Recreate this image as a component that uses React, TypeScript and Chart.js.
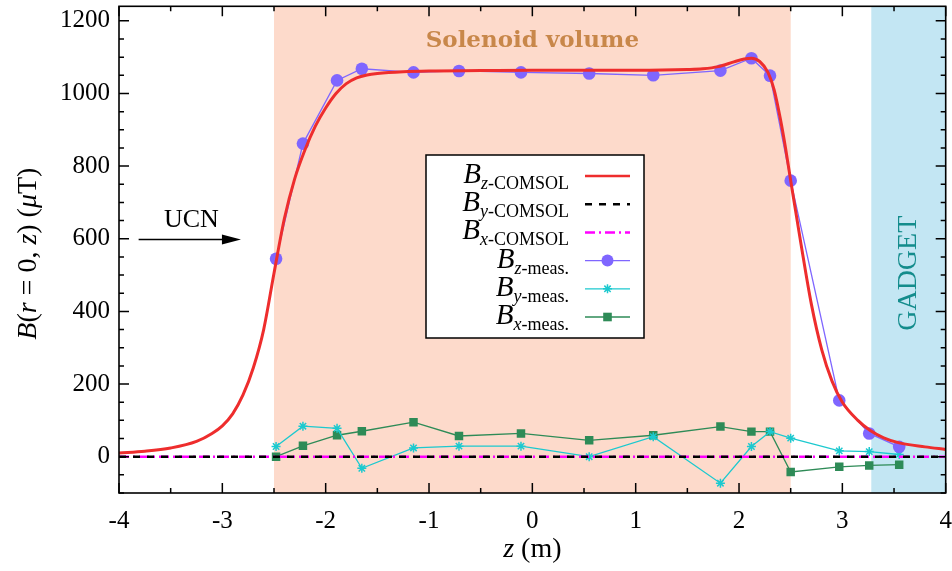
import React, { useEffect, useRef } from 'react';
import { Chart, registerables } from 'chart.js';

Chart.register(...registerables);

// ---- data ----
const zComsol = [-4.0, -3.75, -3.5, -3.25, -3.1, -3.0, -2.9, -2.8, -2.7, -2.6, -2.5, -2.4, -2.3, -2.2, -2.1, -2.0, -1.9, -1.8, -1.7, -1.6, -1.5, -1.25, -1.0, -0.5, 0, 0.5, 1.0, 1.5, 1.65, 1.8, 1.95, 2.05, 2.12, 2.2, 2.28, 2.34, 2.4, 2.45, 2.5, 2.6, 2.7, 2.8, 2.9, 3.0, 3.15, 3.27, 3.4, 3.55, 3.8, 4.0];
const bzComsol = [10, 15, 24, 42, 64, 85, 118, 170, 245, 350, 505, 655, 765, 845, 910, 960, 1000, 1027, 1043, 1051, 1055, 1060, 1062, 1063, 1064, 1064, 1064, 1066, 1068, 1074, 1087, 1095, 1097, 1088, 1058, 1010, 930, 850, 760, 585, 420, 295, 208, 150, 100, 72, 52, 38, 27, 20];
const zComsolFlat = [-4, 4];
const byComsol = [0, 0];
const bxComsol = [0, 0];

const zMeas = [-2.48, -2.22, -1.89, -1.65, -1.15, -0.71, -0.11, 0.55, 1.17, 1.82, 2.12, 2.30, 2.50, 2.97, 3.26, 3.55];
const bzMeas = [545, 862, 1036, 1068, 1058, 1062, 1058, 1055, 1050, 1063, 1097, 1049, 760, 155, 64, 27];
const byMeas = [28, 84, 78, -32, 24, 29, 29, 0, 55, -73, 28, 69, 51, 16, 14, 6];
const bxMeas = [0, 30, 59, 70, 95, 57, 64, 45, 59, 83, 69, 69, -42, -28, -24, -22];

const xTickValues = [-4, -3, -2, -1, 0, 1, 2, 3, 4];
const yTickValues = [0, 200, 400, 600, 800, 1000, 1200];
const solenoidRange = [-2.5, 2.5];
const gadgetRange = [3.28, 4];

const SERIF = '"Liberation Serif", "DejaVu Serif", serif';

const C_RED = '#EE2D2D';
const C_PURPLE = '#7F66FF';
const C_CYAN = '#1CC9CF';
const C_GREEN = '#2E8B57';
const C_MAGENTA = '#FF00FF';

type Seg = { t: string; it?: boolean; sub?: boolean };

function segFont(s: Seg, base: number, subSize: number) {
  return `${s.it ? 'italic ' : ''}${s.sub ? subSize : base}px ${SERIF}`;
}

function measureSegs(ctx: CanvasRenderingContext2D, segs: Seg[], base: number, subSize: number) {
  let w = 0;
  for (const s of segs) {
    ctx.font = segFont(s, base, subSize);
    w += ctx.measureText(s.t).width;
  }
  return w;
}

function drawSegs(ctx: CanvasRenderingContext2D, segs: Seg[], x: number, y: number, base: number, subSize: number) {
  let cx = x;
  ctx.textAlign = 'left';
  ctx.textBaseline = 'alphabetic';
  for (const s of segs) {
    ctx.font = segFont(s, base, subSize);
    ctx.fillText(s.t, cx, s.sub ? y + 6 : y);
    cx += ctx.measureText(s.t).width;
  }
}

function drawStar(ctx: CanvasRenderingContext2D, x: number, y: number, r: number) {
  ctx.beginPath();
  for (let i = 0; i < 4; i++) {
    const a = (i * Math.PI) / 4;
    ctx.moveTo(x - Math.cos(a) * r, y - Math.sin(a) * r);
    ctx.lineTo(x + Math.cos(a) * r, y + Math.sin(a) * r);
  }
  ctx.stroke();
}

const decorPlugin = {
  id: 'decor',
  beforeDraw(chart: any) {
    const { ctx, chartArea: a, scales } = chart;
    const x = scales.x, y = scales.y;
    ctx.save();
    const s0 = x.getPixelForValue(solenoidRange[0]);
    const s1 = x.getPixelForValue(solenoidRange[1]);
    ctx.fillStyle = '#FDDACB';
    ctx.fillRect(s0, a.top, s1 - s0, a.bottom - a.top);
    const g0 = x.getPixelForValue(gadgetRange[0]);
    const g1 = x.getPixelForValue(gadgetRange[1]);
    ctx.fillStyle = '#C3E6F3';
    ctx.fillRect(g0, a.top, g1 - g0, a.bottom - a.top);

    // Solenoid volume label
    ctx.fillStyle = '#C8874A';
    ctx.font = `bold 23px "DejaVu Serif", serif`;
    ctx.textAlign = 'center';
    ctx.textBaseline = 'middle';
    ctx.fillText('Solenoid volume', x.getPixelForValue(0), y.getPixelForValue(1145));

    // GADGET label
    ctx.save();
    ctx.translate(x.getPixelForValue(3.64), y.getPixelForValue(505));
    ctx.rotate(-Math.PI / 2);
    ctx.fillStyle = '#138C8C';
    ctx.font = `28px ${SERIF}`;
    ctx.textAlign = 'center';
    ctx.textBaseline = 'middle';
    ctx.fillText('GADGET', 0, 0);
    ctx.restore();

    // UCN arrow
    ctx.fillStyle = '#000';
    ctx.font = `26px ${SERIF}`;
    ctx.textAlign = 'center';
    ctx.textBaseline = 'middle';
    ctx.fillText('UCN', x.getPixelForValue(-3.3), y.getPixelForValue(652));
    const ax0 = x.getPixelForValue(-3.81);
    const ax1 = x.getPixelForValue(-2.82);
    const ay = y.getPixelForValue(598);
    ctx.strokeStyle = '#000';
    ctx.lineWidth = 1.3;
    ctx.beginPath();
    ctx.moveTo(ax0, ay);
    ctx.lineTo(ax1 - 16, ay);
    ctx.stroke();
    ctx.beginPath();
    ctx.moveTo(ax1, ay);
    ctx.lineTo(ax1 - 19, ay - 5);
    ctx.lineTo(ax1 - 19, ay + 5);
    ctx.closePath();
    ctx.fill();

    // axis titles
    ctx.fillStyle = '#000';
    const ySegs: Seg[] = [
      { t: 'B', it: true }, { t: '(' }, { t: 'r', it: true }, { t: ' = 0, ' }, { t: 'z', it: true }, { t: ') (' }, { t: 'μ', it: true }, { t: 'T)' },
    ];
    ctx.save();
    ctx.translate(36, (a.top + a.bottom) / 2 + 4);
    ctx.rotate(-Math.PI / 2);
    const yw = measureSegs(ctx, ySegs, 28, 18);
    drawSegs(ctx, ySegs, -yw / 2, 0, 28, 18);
    ctx.restore();

    const xSegs: Seg[] = [{ t: 'z', it: true }, { t: ' (m)' }];
    const xw = measureSegs(ctx, xSegs, 28, 18);
    drawSegs(ctx, xSegs, (a.left + a.right) / 2 - xw / 2, 557, 28, 18);
    ctx.restore();
  },
  afterDatasetsDraw(chart: any) {
    const { ctx, chartArea: a, scales } = chart;
    const x = scales.x, y = scales.y;
    ctx.save();
    ctx.strokeStyle = '#000';
    ctx.lineWidth = 1.5;
    // ticks
    ctx.beginPath();
    for (let v = -4; v <= 4.0001; v += 0.5) {
      const px = x.getPixelForValue(v);
      const len = Math.abs(v - Math.round(v)) < 1e-6 ? 10 : 5;
      ctx.moveTo(px, a.bottom); ctx.lineTo(px, a.bottom - len);
      ctx.moveTo(px, a.top); ctx.lineTo(px, a.top + len);
    }
    for (let v = -100; v <= 1240; v += 50) {
      const py = y.getPixelForValue(v);
      const len = v % 200 === 0 ? 10 : 5;
      ctx.moveTo(a.left, py); ctx.lineTo(a.left + len, py);
      ctx.moveTo(a.right, py); ctx.lineTo(a.right - len, py);
    }
    ctx.stroke();
    ctx.lineWidth = 1.6;
    ctx.strokeRect(a.left, a.top, a.right - a.left, a.bottom - a.top);

    // legend
    const lx0 = 426, ly0 = 155, lx1 = 644, ly1 = 338;
    ctx.fillStyle = '#fff';
    ctx.fillRect(lx0, ly0, lx1 - lx0, ly1 - ly0);
    ctx.lineWidth = 1.5;
    ctx.strokeStyle = '#000';
    ctx.strokeRect(lx0, ly0, lx1 - lx0, ly1 - ly0);
    const rows: { segs: Seg[]; kind: string }[] = [
      { segs: [{ t: 'B', it: true }, { t: 'z', it: true, sub: true }, { t: '-COMSOL', sub: true }], kind: 'zc' },
      { segs: [{ t: 'B', it: true }, { t: 'y', it: true, sub: true }, { t: '-COMSOL', sub: true }], kind: 'yc' },
      { segs: [{ t: 'B', it: true }, { t: 'x', it: true, sub: true }, { t: '-COMSOL', sub: true }], kind: 'xc' },
      { segs: [{ t: 'B', it: true }, { t: 'z', it: true, sub: true }, { t: '-meas.', sub: true }], kind: 'zm' },
      { segs: [{ t: 'B', it: true }, { t: 'y', it: true, sub: true }, { t: '-meas.', sub: true }], kind: 'ym' },
      { segs: [{ t: 'B', it: true }, { t: 'x', it: true, sub: true }, { t: '-meas.', sub: true }], kind: 'xm' },
    ];
    const sx0 = 585, sx1 = 630;
    rows.forEach((r, i) => {
      const ly = 176 + i * 28.2;
      ctx.fillStyle = '#000';
      const w = measureSegs(ctx, r.segs, 29, 18);
      drawSegs(ctx, r.segs, 569 - w, ly + 7, 29, 18);
      ctx.setLineDash([]);
      const mid = (sx0 + sx1) / 2;
      if (r.kind === 'zc') {
        ctx.strokeStyle = C_RED; ctx.lineWidth = 2.5;
        ctx.beginPath(); ctx.moveTo(sx0, ly); ctx.lineTo(sx1, ly); ctx.stroke();
      } else if (r.kind === 'yc') {
        ctx.strokeStyle = '#000'; ctx.lineWidth = 2.5; ctx.setLineDash([7, 7]);
        ctx.beginPath(); ctx.moveTo(sx0, ly); ctx.lineTo(sx1, ly); ctx.stroke();
      } else if (r.kind === 'xc') {
        ctx.strokeStyle = C_MAGENTA; ctx.lineWidth = 2.5; ctx.setLineDash([10, 4, 2, 4]);
        ctx.beginPath(); ctx.moveTo(sx0, ly); ctx.lineTo(sx1, ly); ctx.stroke();
      } else if (r.kind === 'zm') {
        ctx.strokeStyle = C_PURPLE; ctx.lineWidth = 1.3;
        ctx.beginPath(); ctx.moveTo(sx0, ly); ctx.lineTo(sx1, ly); ctx.stroke();
        ctx.fillStyle = C_PURPLE; ctx.beginPath(); ctx.arc(mid, ly, 6, 0, Math.PI * 2); ctx.fill();
      } else if (r.kind === 'ym') {
        ctx.strokeStyle = C_CYAN; ctx.lineWidth = 1.3;
        ctx.beginPath(); ctx.moveTo(sx0, ly); ctx.lineTo(sx1, ly); ctx.stroke();
        ctx.lineWidth = 1.5; drawStar(ctx, mid, ly, 4.5);
      } else {
        ctx.strokeStyle = C_GREEN; ctx.lineWidth = 1.3;
        ctx.beginPath(); ctx.moveTo(sx0, ly); ctx.lineTo(sx1, ly); ctx.stroke();
        ctx.fillStyle = C_GREEN; ctx.fillRect(mid - 4.3, ly - 4.3, 8.6, 8.6);
      }
    });
    ctx.restore();
  },
};

function pts(xs: number[], ys: number[]) {
  return xs.map((v, i) => ({ x: v, y: ys[i] }));
}

export default function App() {
  const ref = useRef<HTMLCanvasElement | null>(null);
  useEffect(() => {
    if (!ref.current) return;
    const tickFont = { family: SERIF, size: 25 };
    const chart = new Chart(ref.current, {
      type: 'line',
      data: {
        datasets: [
          { label: 'Bz-COMSOL', data: pts(zComsol, bzComsol), borderColor: C_RED, borderWidth: 3, pointRadius: 0, tension: 0.4, cubicInterpolationMode: 'monotone', fill: false },
          { label: 'By-COMSOL', data: pts(zComsolFlat, byComsol), borderColor: '#000', borderWidth: 2.5, borderDash: [7, 7], pointRadius: 0, fill: false },
          { label: 'Bx-COMSOL', data: pts(zComsolFlat, bxComsol), borderColor: C_MAGENTA, borderWidth: 2.5, borderDash: [10, 4, 2, 4], pointRadius: 0, fill: false },
          { label: 'Bz-meas.', data: pts(zMeas, bzMeas), borderColor: C_PURPLE, borderWidth: 1.3, pointStyle: 'circle', pointRadius: 6.3, pointBackgroundColor: C_PURPLE, pointBorderWidth: 0, tension: 0, fill: false },
          { label: 'By-meas.', data: pts(zMeas, byMeas), borderColor: C_CYAN, borderWidth: 1.3, pointStyle: 'star', pointRadius: 4.5, pointBorderColor: C_CYAN, pointBorderWidth: 1.5, tension: 0, fill: false },
          { label: 'Bx-meas.', data: pts(zMeas, bxMeas), borderColor: C_GREEN, borderWidth: 1.3, pointStyle: 'rect', pointRadius: 6, pointBackgroundColor: C_GREEN, pointBorderWidth: 0, tension: 0, fill: false },
        ],
      } as any,
      options: {
        responsive: false,
        animation: false,
        events: [],
        layout: { padding: { left: 0, right: 4, top: 0, bottom: 0 } },
        plugins: { legend: { display: false }, tooltip: { enabled: false } },
        scales: {
          x: {
            type: 'linear', min: -4, max: 4,
            grid: { display: false, drawTicks: false }, border: { display: false },
            afterBuildTicks: (s: any) => { s.ticks = xTickValues.map((v) => ({ value: v })); },
            afterFit: (s: any) => { s.height = 78; s.paddingLeft = 0; s.paddingRight = 0; },
            ticks: { font: tickFont, color: '#000', padding: 13, maxRotation: 0, autoSkip: false, callback: (v: any) => String(v) },
          },
          y: {
            type: 'linear', min: -100, max: 1240,
            grid: { display: false, drawTicks: false }, border: { display: false },
            afterBuildTicks: (s: any) => { s.ticks = yTickValues.map((v) => ({ value: v })); },
            afterFit: (s: any) => { s.width = 119; s.paddingTop = 0; s.paddingBottom = 0; },
            ticks: { font: tickFont, color: '#000', padding: 9, autoSkip: false, callback: (v: any) => String(v) },
          },
        },
      } as any,
      plugins: [decorPlugin],
    });
    return () => chart.destroy();
  }, []);
  return (
    <div style={{ position: 'fixed', left: 0, top: 0, width: 952, height: 571, overflow: 'hidden', background: '#fff' }}>
      <canvas ref={ref} width={952} height={571} style={{ width: 952, height: 571, display: 'block' }} />
    </div>
  );
}
